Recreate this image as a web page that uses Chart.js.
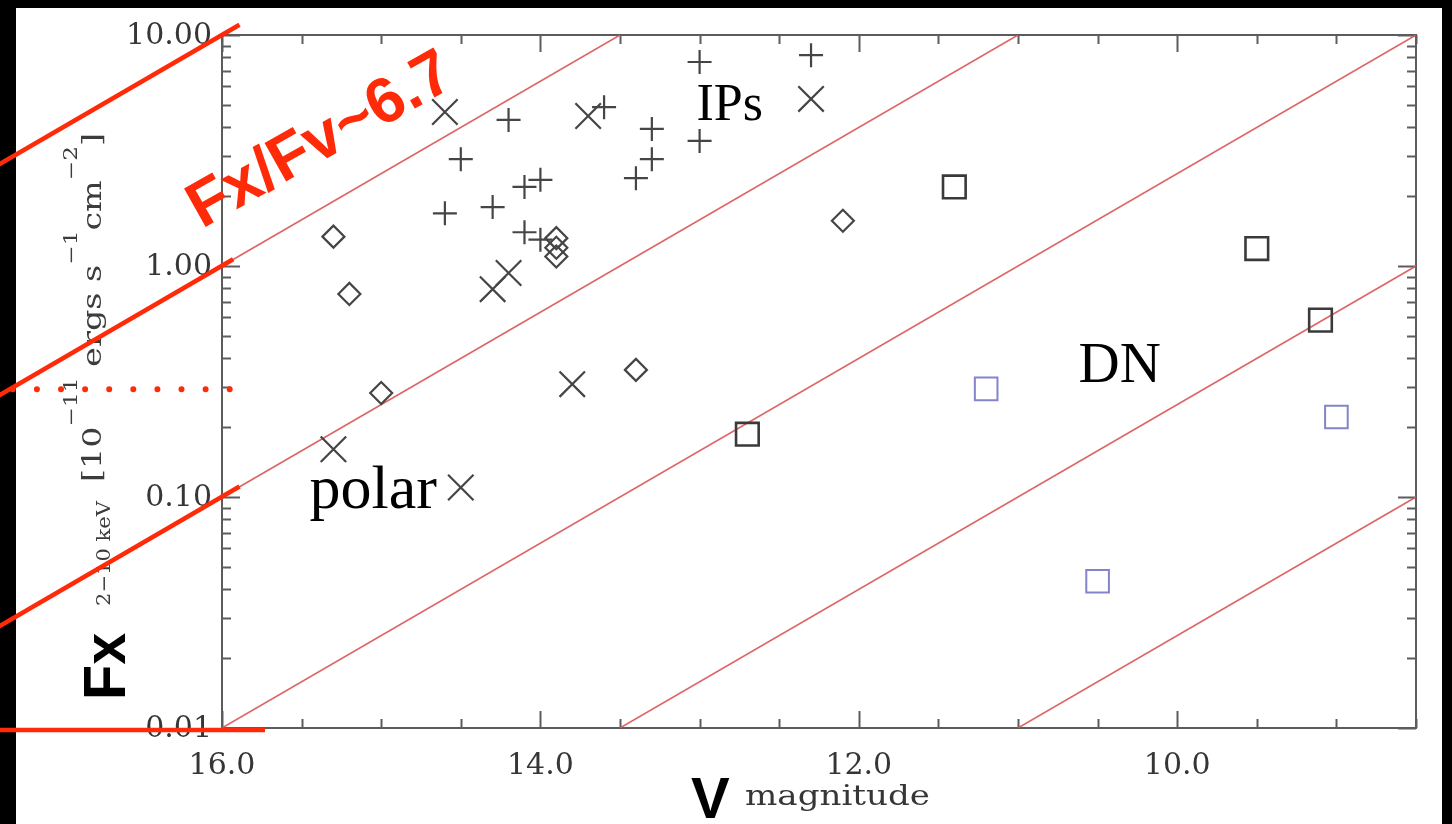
<!DOCTYPE html>
<html>
<head>
<meta charset="utf-8">
<script src="https://cdn.jsdelivr.net/npm/chart.js@4.4.1/dist/chart.umd.min.js"></script>
<style>
  html, body { margin: 0; padding: 0; background: #000; }
  #wrap { width: 1452px; height: 824px; }
</style>
</head>
<body>
<div id="wrap"><canvas id="c" width="1452" height="824"></canvas></div>
<script>
// ---- data: V magnitude vs 2-10 keV flux [1e-11 erg/s/cm2] ----
const ipV   = [13.0, 12.3, 13.6, 14.2, 13.3, 13.0, 14.5, 13.3, 13.4, 14.0, 14.1, 14.3, 14.6, 14.1, 14.0];
const ipFx  = [7.64, 8.18, 4.87, 4.29, 3.92, 3.48, 2.90, 2.90, 2.40, 2.36, 2.20, 1.80, 1.69, 1.40, 1.30];

const polarV  = [14.6, 13.7, 12.3, 14.2, 14.3, 13.8, 15.3, 14.5];
const polarFx = [4.64, 4.46, 5.29, 0.933, 0.794, 0.308, 0.161, 0.110];

const diamondV  = [15.3, 15.2, 15.0, 13.4, 12.1, 13.9, 13.9, 13.9];
const diamondFx = [1.34, 0.757, 0.282, 0.355, 1.57, 1.32, 1.20, 1.10];

const dnV  = [11.4, 9.5, 9.1, 12.7];
const dnFx = [2.20, 1.19, 0.583, 0.187];

const dnBlueV  = [11.2, 9.0, 10.5];
const dnBlueFx = [0.294, 0.222, 0.0432];

// constant Fx/Fv lines: [V, Fx] where each meets the frame
const ratioLineStart = [[16.0, 1.0], [16.0, 0.1], [16.0, 0.01], [13.5, 0.01], [11.0, 0.01]];
const ratioLineEnd   = [[13.5, 10.0], [11.0, 10.0], [8.5, 10.0], [8.5, 1.0], [8.5, 0.1]];

// highlighted extensions to the left of the frame
const markStart = [[17.5, 2.51], [17.5, 0.251], [17.5, 0.0251]];
const markEnd   = [[15.89, 11.07], [15.93, 1.07], [15.89, 0.111]];
const floorMark = [[17.5, 0.0098], [15.73, 0.0098]];
const levelMark = [[17.314, 0.293], [15.95, 0.293]];

// axes
const xRange = [8.5, 16.0];
const yRange = [0.01, 10.0];
const xTickValues = [16, 14, 12, 10];
const yTickValues = [10, 1, 0.1, 0.01];

// in-plot labels [text, V, Fx, font]
const groupLabels = [
  ['IPs',   13.02, 4.29,  '52px "Liberation Serif"'],
  ['DN',    10.62, 0.315, '57px "Liberation Serif"'],
  ['polar', 15.45, 0.0896,'62px "Liberation Serif"']
];

const pts = (xs, ys) => xs.map((v, i) => ({ x: v, y: ys[i] }));
const seg = (a, b) => [{ x: a[0], y: a[1] }, { x: b[0], y: b[1] }];

const RED = 'rgb(255,42,8)';
const datasets = [];

// bright annotation strokes (drawn on top, unclipped)
markStart.forEach((s, i) => datasets.push({
  data: seg(s, markEnd[i]), showLine: true, pointRadius: 0, borderColor: RED,
  borderWidth: 4.5, clip: false, order: 0
}));
datasets.push({ data: seg(floorMark[0], floorMark[1]), showLine: true, pointRadius: 0,
  borderColor: RED, borderWidth: 4.5, clip: false, order: 0 });
datasets.push({ data: seg(levelMark[0], levelMark[1]), showLine: true, pointRadius: 0,
  borderColor: RED, borderWidth: 6, borderDash: [0, 24.1], borderCapStyle: 'round',
  clip: false, order: 0 });

// source markers
const markerBase = { showLine: false, backgroundColor: 'rgba(0,0,0,0)', order: 1 };
datasets.push(Object.assign({ label: 'IPs', data: pts(ipV, ipFx), pointStyle: 'cross',
  pointRadius: 12, pointBorderWidth: 2.2, pointBorderColor: '#454545' }, markerBase));
datasets.push(Object.assign({ label: 'polar', data: pts(polarV, polarFx), pointStyle: 'crossRot',
  pointRadius: 18, pointBorderWidth: 2.2, pointBorderColor: '#454545' }, markerBase));
datasets.push(Object.assign({ label: 'other', data: pts(diamondV, diamondFx), pointStyle: 'rectRot',
  pointRadius: 11, pointBorderWidth: 2.2, pointBorderColor: '#454545' }, markerBase));
datasets.push(Object.assign({ label: 'DN', data: pts(dnV, dnFx), pointStyle: 'rect',
  pointRadius: 16, pointBorderWidth: 2.6, pointBorderColor: '#3a3a3a' }, markerBase));
datasets.push(Object.assign({ label: 'DN (2)', data: pts(dnBlueV, dnBlueFx), pointStyle: 'rect',
  pointRadius: 16, pointBorderWidth: 2, pointBorderColor: '#8484c8' }, markerBase));

// reference ratio lines
ratioLineStart.forEach((s, i) => datasets.push({
  data: seg(s, ratioLineEnd[i]), showLine: true, pointRadius: 0,
  borderColor: 'rgba(218,84,84,0.9)', borderWidth: 1.6, order: 2
}));

function fittedText(ctx, pieces, length) {
  // pieces: [text, font, baselineShift]; stretched to the requested length
  let total = 0;
  pieces.forEach(p => { ctx.font = p[1]; total += ctx.measureText(p[0]).width; });
  const s = length / total;
  ctx.save();
  ctx.scale(s, 1);
  let x = 0;
  pieces.forEach(p => {
    ctx.font = p[1];
    ctx.fillText(p[0], x, p[2]);
    x += ctx.measureText(p[0]).width;
  });
  ctx.restore();
}

const frame = {
  id: 'frame',
  beforeDraw(chart) {
    const ctx = chart.ctx;
    ctx.save();
    ctx.fillStyle = '#000';
    ctx.fillRect(0, 0, chart.width, chart.height);
    ctx.fillStyle = '#fff';
    ctx.fillRect(16, 8, 1426, 816);
    ctx.restore();
  },
  beforeDatasetsDraw(chart) {
    const ctx = chart.ctx, a = chart.chartArea;
    const xs = chart.scales.x, ys = chart.scales.y;
    ctx.save();
    // frame
    ctx.strokeStyle = '#5c5c5c';
    ctx.lineWidth = 2;
    ctx.strokeRect(a.left, a.top, a.right - a.left, a.bottom - a.top);
    // inward ticks, x every 0.5 mag
    const line = (x1, y1, x2, y2) => { ctx.beginPath(); ctx.moveTo(x1, y1); ctx.lineTo(x2, y2); ctx.stroke(); };
    for (let k = 0; k <= 15; k++) {
      const v = xRange[0] + 0.5 * k;
      const px = Math.round(xs.getPixelForValue(v)) + 0.5;
      const major = xTickValues.includes(v);
      const len = major ? 17 : 9;
      ctx.lineWidth = 2;
      line(px, a.bottom, px, a.bottom - len);
      line(px, a.top, px, a.top + len);
    }
    // log ticks on y
    for (let e = -2; e <= 1; e++) {
      for (let m = 1; m <= 9; m++) {
        const val = m * Math.pow(10, e);
        if (val > yRange[1] * 1.0001) break;
        const py = Math.round(ys.getPixelForValue(val)) + 0.5;
        const len = m === 1 ? 18 : 9;
        line(a.left, py, a.left + len, py);
        line(a.right, py, a.right - len, py);
      }
    }
    // tick labels
    ctx.fillStyle = '#363636';
    ctx.font = '30px "DejaVu Serif"';
    ctx.textBaseline = 'middle';
    ctx.textAlign = 'right';
    yTickValues.forEach(v => {
      ctx.fillText(v.toFixed(2), a.left - 10, ys.getPixelForValue(v) + 1);
    });
    ctx.textAlign = 'center';
    xTickValues.forEach(v => {
      ctx.fillText(v.toFixed(1), xs.getPixelForValue(v), 766);
    });
    // x title
    ctx.textAlign = 'left';
    ctx.textBaseline = 'alphabetic';
    ctx.fillStyle = '#000';
    ctx.font = 'bold 58px "Liberation Sans"';
    ctx.fillText('V', 691, 818);
    ctx.fillStyle = '#363636';
    ctx.save();
    ctx.translate(745, 805);
    fittedText(ctx, [['magnitude', '27px "DejaVu Serif"', 0]], 185);
    ctx.restore();
    // y title (reads upward)
    ctx.save();
    ctx.translate(125, 700);
    ctx.rotate(-Math.PI / 2);
    ctx.fillStyle = '#000';
    ctx.font = 'bold 60px "Liberation Sans"';
    ctx.save();
    ctx.scale(0.96, 1);
    ctx.fillText('Fx', 0, 0);
    ctx.restore();
    ctx.fillStyle = '#3c3c3c';
    ctx.save();
    ctx.translate(94, -15);
    fittedText(ctx, [['2\u221210 keV', '19px "DejaVu Serif"', 0]], 105);
    ctx.restore();
    ctx.save();
    ctx.translate(218, -24);
    const mf = '26px "DejaVu Serif"', sf = '18px "DejaVu Serif"';
    fittedText(ctx, [
      ['[10', mf, 0], ['\u221211', sf, -24], [' ergs s', mf, 0], ['\u22121', sf, -24],
      ['cm', mf, 0], ['\u22122', sf, -24], [']', mf, 0]
    ], 349);
    ctx.restore();
    ctx.restore();
    ctx.restore();
  },
  afterDatasetsDraw(chart) {
    const ctx = chart.ctx;
    const xs = chart.scales.x, ys = chart.scales.y;
    ctx.save();
    ctx.fillStyle = '#000';
    ctx.textAlign = 'left';
    ctx.textBaseline = 'alphabetic';
    groupLabels.forEach(([t, v, f, font]) => {
      ctx.font = font;
      ctx.fillText(t, xs.getPixelForValue(v), ys.getPixelForValue(f));
    });
    // ratio callout
    ctx.translate(202, 229);
    ctx.rotate(-29.5 * Math.PI / 180);
    ctx.fillStyle = RED;
    ctx.font = 'bold 64px "Liberation Sans"';
    ctx.fillText('Fx/Fv~6.7', 0, 0);
    ctx.restore();
  }
};

new Chart(document.getElementById('c'), {
  type: 'scatter',
  data: { datasets },
  options: {
    responsive: false,
    devicePixelRatio: 1,
    animation: false,
    layout: { padding: { left: 222, top: 35, right: 36, bottom: 96 } },
    plugins: { legend: { display: false }, tooltip: { enabled: false } },
    elements: { line: { tension: 0, fill: false } },
    scales: {
      x: { type: 'linear', reverse: true, min: xRange[0], max: xRange[1], display: false },
      y: { type: 'logarithmic', min: yRange[0], max: yRange[1], display: false }
    }
  },
  plugins: [frame]
});
</script>
</body>
</html>
